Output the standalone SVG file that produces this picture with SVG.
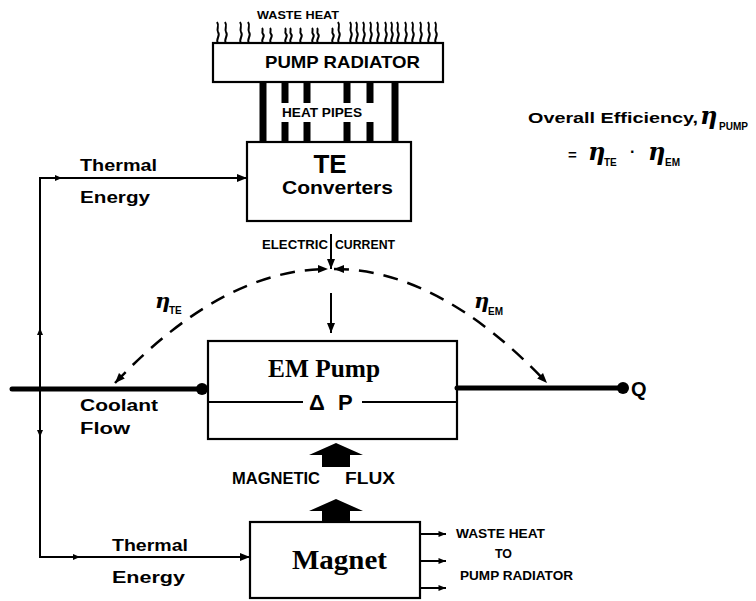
<svg xmlns="http://www.w3.org/2000/svg" xmlns:xlink="http://www.w3.org/1999/xlink" width="756" height="601" viewBox="0 0 756 601">
<style>
.box{fill:#fff;stroke:#000;stroke-width:2.2}
.ln{fill:none;stroke:#000;stroke-width:2}
.thick{fill:none;stroke:#000;stroke-width:5;stroke-linecap:round}
.pipe{stroke:#000;stroke-width:7}
.dash{fill:none;stroke:#000;stroke-width:2.5;stroke-dasharray:15 10}
.sans{font-family:"Liberation Sans","DejaVu Sans",sans-serif;font-weight:bold;fill:#000}
.cond{font-family:"Liberation Sans","DejaVu Sans",sans-serif;font-weight:bold;fill:#000}
.serif{font-family:"Liberation Serif","DejaVu Serif",serif;font-weight:bold;fill:#000}
.eta{font-family:"DejaVu Serif","Liberation Serif",serif;font-style:italic;font-weight:bold;fill:#000}
.sq{fill:none;stroke:#000;stroke-width:2}
</style>
<defs>
<marker id="ah" viewBox="0 0 10 8" refX="10" refY="4" markerWidth="10" markerHeight="8" markerUnits="userSpaceOnUse" orient="auto-start-reverse"><path d="M0,0 L10,4 L0,8 z" fill="#000"/></marker>
<marker id="ahs" viewBox="0 0 10 8" refX="10" refY="4" markerWidth="9" markerHeight="6" markerUnits="userSpaceOnUse" orient="auto-start-reverse"><path d="M0,0 L10,4 L0,8 z" fill="#000"/></marker>
<path id="sq" class="sq" d="M0,0 c-3,-4 3,-7 0,-11 c-2,-3 2,-6 -1,-10"/>
<path id="sqs" class="sq" d="M0,0 c-3,-4 3,-6 0,-9 c-2,-2 1,-4 -1,-6"/>
</defs>

<g id="radiator">
<g id="waste-heat-top">
<use href="#sq" x="218" y="43"/><use href="#sq" x="226" y="43"/><use href="#sq" x="241" y="43"/><use href="#sq" x="249" y="43"/>
<use href="#sqs" x="263" y="43"/><use href="#sqs" x="271" y="43"/><use href="#sqs" x="286" y="43"/><use href="#sqs" x="291" y="43"/>
<use href="#sqs" x="301" y="43"/><use href="#sqs" x="313" y="43"/><use href="#sqs" x="318" y="43"/><use href="#sqs" x="333" y="43"/>
<use href="#sq" x="339" y="43"/><use href="#sq" x="351" y="43"/><use href="#sq" x="357" y="43"/><use href="#sq" x="364" y="43"/>
<use href="#sq" x="371" y="43"/><use href="#sq" x="378" y="43"/><use href="#sq" x="386" y="43"/><use href="#sq" x="392" y="43"/>
<use href="#sq" x="398" y="43"/><use href="#sq" x="406" y="43"/><use href="#sq" x="413" y="43"/><use href="#sq" x="421" y="43"/>
<use href="#sq" x="429" y="43"/><use href="#sq" x="436" y="43"/>
<text class="cond" x="257" y="19" font-size="11" textLength="82" lengthAdjust="spacingAndGlyphs">WASTE HEAT</text>
</g>
<rect class="box" x="213" y="43" width="230" height="39" stroke-width="2.6"/>
<text class="cond" x="265" y="68" font-size="17" textLength="155" lengthAdjust="spacingAndGlyphs">PUMP RADIATOR</text>
<g id="heat-pipes">
<line class="pipe" x1="263" y1="82" x2="263" y2="143"/>
<line class="pipe" x1="395" y1="82" x2="395" y2="143"/>
<line class="pipe" x1="285" y1="82" x2="285" y2="103"/><line class="pipe" x1="307" y1="82" x2="307" y2="103"/>
<line class="pipe" x1="347" y1="82" x2="347" y2="103"/><line class="pipe" x1="370" y1="82" x2="370" y2="103"/>
<line class="pipe" x1="285" y1="122" x2="285" y2="143"/><line class="pipe" x1="307" y1="122" x2="307" y2="143"/>
<line class="pipe" x1="347" y1="122" x2="347" y2="143"/><line class="pipe" x1="370" y1="122" x2="370" y2="143"/>
<text class="cond" x="282" y="117" font-size="12" textLength="80" lengthAdjust="spacingAndGlyphs">HEAT PIPES</text>
</g>
</g>

<g id="te-converters">
<rect class="box" x="247" y="142" width="164" height="79"/>
<text class="sans" x="330" y="173" font-size="26" text-anchor="middle">TE</text>
<text class="sans" x="282" y="194" font-size="18" textLength="111" lengthAdjust="spacingAndGlyphs">Converters</text>
</g>

<g id="em-pump">
<rect class="box" x="208" y="341" width="249" height="98"/>
<text class="serif" x="268" y="377" font-size="26" textLength="112" lengthAdjust="spacingAndGlyphs">EM Pump</text>
<line class="ln" x1="208" y1="402" x2="303" y2="402"/>
<line class="ln" x1="362" y1="402" x2="457" y2="402"/>
<text class="sans" x="309" y="410" font-size="22" font-weight="normal">Δ</text>
<text class="sans" x="338" y="410" font-size="22">P</text>
</g>

<g id="magnet">
<rect class="box" x="250" y="522" width="170" height="76"/>
<text class="serif" x="292" y="569" font-size="28" textLength="95" lengthAdjust="spacingAndGlyphs">Magnet</text>
<g class="ln">
<line x1="420" y1="534" x2="446" y2="534" marker-end="url(#ahs)"/>
<line x1="420" y1="561" x2="446" y2="561" marker-end="url(#ahs)"/>
<line x1="420" y1="588" x2="446" y2="588" marker-end="url(#ahs)"/>
</g>
<text class="cond" x="456" y="538" font-size="12" textLength="89" lengthAdjust="spacingAndGlyphs">WASTE HEAT</text>
<text class="cond" x="495" y="558" font-size="12" textLength="17" lengthAdjust="spacingAndGlyphs">TO</text>
<text class="cond" x="460" y="580" font-size="12" textLength="113" lengthAdjust="spacingAndGlyphs">PUMP RADIATOR</text>
</g>

<g id="formula">
<text class="sans" x="528" y="123" font-size="15" textLength="170" lengthAdjust="spacingAndGlyphs">Overall Efficiency,</text>
<text class="eta" x="700" y="124" font-size="24">η</text>
<text class="cond" x="719" y="130" font-size="10" textLength="29" lengthAdjust="spacingAndGlyphs">PUMP</text>
<text class="sans" x="568" y="160" font-size="15">=</text>
<text class="eta" x="588" y="160" font-size="24">η</text>
<text class="cond" x="604" y="166" font-size="10">TE</text>
<text class="sans" x="630" y="157" font-size="16">·</text>
<text class="eta" x="648" y="160" font-size="24">η</text>
<text class="cond" x="665" y="166" font-size="10">EM</text>
</g>

<g id="connectors">
<polyline class="ln" points="247,178 40,178 40,557 250,557"/>
<path d="M247,178 l-10,-4 v8 z"/>
<path d="M250,557 l-10,-4 v8 z"/>
<path d="M62,178 l-7,-3 v6 z"/>
<path d="M80,557 l-7,-3 v6 z"/>
<path d="M40,328 l-3,7 h6 z"/>
<path d="M40,437 l-3,-7 h6 z"/>
<text class="sans" x="80" y="171" font-size="16" textLength="77" lengthAdjust="spacingAndGlyphs">Thermal</text>
<text class="sans" x="80" y="203" font-size="16" textLength="70" lengthAdjust="spacingAndGlyphs">Energy</text>
<text class="sans" x="112" y="551" font-size="16" textLength="76" lengthAdjust="spacingAndGlyphs">Thermal</text>
<text class="sans" x="112" y="583" font-size="16" textLength="73" lengthAdjust="spacingAndGlyphs">Energy</text>

<line class="ln" x1="331" y1="234" x2="331" y2="269" marker-end="url(#ah)"/>
<text class="cond" x="262" y="249" font-size="12" textLength="66" lengthAdjust="spacingAndGlyphs">ELECTRIC</text>
<text class="cond" x="335" y="249" font-size="12" textLength="60" lengthAdjust="spacingAndGlyphs">CURRENT</text>
<line class="ln" x1="331" y1="293" x2="331" y2="333" marker-end="url(#ah)"/>

<path class="dash" d="M115,383 Q223,269 328,269" marker-start="url(#ah)" marker-end="url(#ah)"/>
<path class="dash" d="M334,269 Q439,269 547,383" marker-start="url(#ah)" marker-end="url(#ah)"/>
<text class="eta" x="155" y="308" font-size="21">η</text>
<text class="cond" x="169" y="314" font-size="10">TE</text>
<text class="eta" x="474" y="308" font-size="21">η</text>
<text class="cond" x="488" y="315" font-size="10">EM</text>

<line class="thick" x1="12" y1="389" x2="200" y2="389"/>
<circle cx="202" cy="389" r="6"/>
<line class="thick" x1="457" y1="388" x2="620" y2="388"/>
<circle cx="623" cy="388" r="6"/>
<text class="sans" x="631" y="396" font-size="20">Q</text>
<text class="sans" x="80" y="411" font-size="16" textLength="78" lengthAdjust="spacingAndGlyphs">Coolant</text>
<text class="sans" x="80" y="434" font-size="16" textLength="50" lengthAdjust="spacingAndGlyphs">Flow</text>

<polygon points="336,443 363,455 350,455 350,467 322,467 322,455 309,455"/>
<text class="cond" x="232" y="484" font-size="16" textLength="88" lengthAdjust="spacingAndGlyphs">MAGNETIC</text>
<text class="cond" x="345" y="484" font-size="16" textLength="50" lengthAdjust="spacingAndGlyphs">FLUX</text>
<polygon points="336,499 363,511 350,511 350,522 322,522 322,511 309,511"/>
</g>
</svg>
